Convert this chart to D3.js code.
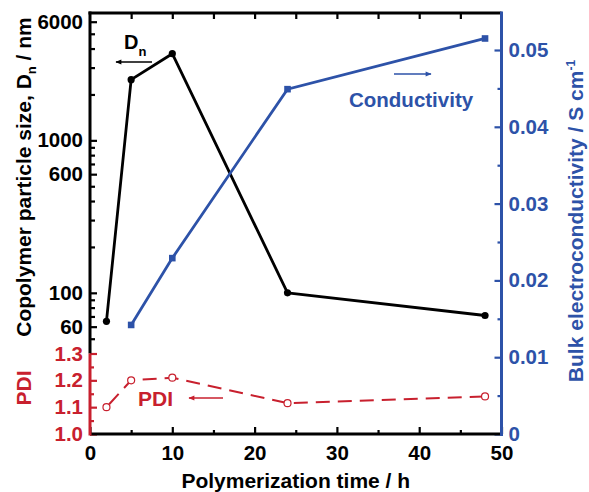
<!DOCTYPE html>
<html>
<head>
<meta charset="utf-8">
<script src="https://cdn.jsdelivr.net/npm/d3@7"></script>
<style>
  html, body { margin: 0; padding: 0; background: #fff; }
  svg { display: block; }
  text { font-family: "Liberation Sans", Arial, Helvetica, sans-serif; font-weight: bold; }
</style>
</head>
<body>
<svg id="chart" width="589" height="492"></svg>
<script>
// ---- data ----
const timeH = [2, 5, 10, 24, 48];
const particleSizeNm = [65, 2500, 3700, 100, 71];
const condTimeH = [5, 10, 24, 48];
const conductivity = [0.0142, 0.0229, 0.0449, 0.0515];
const pdiValues = [1.10, 1.20, 1.21, 1.115, 1.14];

const xTicks = [0, 10, 20, 30, 40, 50];
const xMinorTicks = [5, 15, 25, 35, 45];
const dnTicks = [60, 100, 600, 1000, 6000];
const dnMinorTicks = [50, 70, 80, 90, 200, 300, 400, 500, 700, 800, 900, 2000, 3000, 4000, 5000];
const pdiTicks = [1.0, 1.1, 1.2, 1.3];
const pdiMinorTicks = [1.05, 1.15, 1.25];
const condTicks = [0, 0.01, 0.02, 0.03, 0.04, 0.05];
const condMinorTicks = [0.005, 0.015, 0.025, 0.035, 0.045];

// ---- styles ----
const BLACK = "#000000";
const BLUE = "#2d52a8";
const RED = "#c8202e";
const TICK_FONT = "20.5px";
const TITLE_FONT = "21px";

const svg = d3.select("#chart");

const pLeft = 90, pRight = 501.5, pTop = 13, pBottom = 434;
const x = d3.scaleLinear().domain([0, 50]).range([pLeft, pRight]);
const yDn = d3.scaleLog().domain([40, 7000]).range([353.5, 11.5]);
const yPdi = d3.scaleLinear().domain([1.0, 1.3]).range([pBottom, 353.5]);
const yCond = d3.scaleLinear().domain([0, 0.05]).range([pBottom, 50]);

function styleAxis(g, color, size) {
  g.select(".domain").remove();
  g.selectAll(".tick line").attr("stroke", color).attr("stroke-width", 2.2);
  g.selectAll(".tick text").attr("fill", color).style("font-size", size || TICK_FONT);
}

// bottom axis
svg.append("g").attr("transform", `translate(0,${pBottom})`)
  .call(d3.axisBottom(x).tickValues(xTicks).tickSize(-7).tickPadding(11).tickFormat(d3.format("d")))
  .call(g => styleAxis(g, BLACK));
svg.append("g").attr("transform", `translate(0,${pBottom})`)
  .call(d3.axisBottom(x).tickValues(xMinorTicks).tickSize(-4).tickFormat(""))
  .call(g => styleAxis(g, BLACK));
// top axis (ticks only)
svg.append("g").attr("transform", `translate(0,${pTop})`)
  .call(d3.axisTop(x).tickValues(xMinorTicks.concat(xTicks.slice(1, 5))).tickSize(-6).tickFormat(""))
  .call(g => styleAxis(g, BLACK));

// left log axis (Dn)
svg.append("g").attr("transform", `translate(${pLeft},0)`)
  .call(d3.axisLeft(yDn).tickValues(dnTicks).tickSize(-7).tickPadding(7).tickFormat(d3.format("d")))
  .call(g => styleAxis(g, BLACK));
svg.append("g").attr("transform", `translate(${pLeft},0)`)
  .call(d3.axisLeft(yDn).tickValues(dnMinorTicks).tickSize(-5).tickFormat(""))
  .call(g => styleAxis(g, BLACK));

// left PDI axis
svg.append("g").attr("transform", `translate(${pLeft},0)`)
  .call(d3.axisLeft(yPdi).tickValues(pdiTicks).tickSize(-7).tickPadding(7).tickFormat(d3.format(".1f")))
  .call(g => styleAxis(g, RED));
svg.append("g").attr("transform", `translate(${pLeft},0)`)
  .call(d3.axisLeft(yPdi).tickValues(pdiMinorTicks).tickSize(-4).tickFormat(""))
  .call(g => styleAxis(g, RED));

// right conductivity axis
svg.append("g").attr("transform", `translate(${pRight},0)`)
  .call(d3.axisRight(yCond).tickValues(condTicks).tickSize(-7).tickPadding(7)
    .tickFormat(d => d === 0 ? "0" : d3.format(".2f")(d)))
  .call(g => styleAxis(g, BLUE));
svg.append("g").attr("transform", `translate(${pRight},0)`)
  .call(d3.axisRight(yCond).tickValues(condMinorTicks).tickSize(-4).tickFormat(""))
  .call(g => styleAxis(g, BLUE));

// axis lines
svg.append("line").attr("x1", pLeft - 1.5).attr("x2", pRight).attr("y1", pTop).attr("y2", pTop)
  .attr("stroke", BLACK).attr("stroke-width", 3);
svg.append("line").attr("x1", pLeft).attr("x2", pRight).attr("y1", pBottom).attr("y2", pBottom)
  .attr("stroke", BLACK).attr("stroke-width", 3);
svg.append("line").attr("x1", pLeft).attr("x2", pLeft).attr("y1", pTop - 1.5).attr("y2", yPdi(1.3))
  .attr("stroke", BLACK).attr("stroke-width", 3);
svg.append("line").attr("x1", pLeft).attr("x2", pLeft).attr("y1", yPdi(1.3)).attr("y2", pBottom + 1.5)
  .attr("stroke", RED).attr("stroke-width", 3);
svg.append("line").attr("x1", pRight).attr("x2", pRight).attr("y1", pTop - 1.5).attr("y2", pBottom + 2)
  .attr("stroke", BLUE).attr("stroke-width", 3);

// ---- series ----
const dnData = timeH.map((t, i) => ({ t, v: particleSizeNm[i] }));
const condData = condTimeH.map((t, i) => ({ t, v: conductivity[i] }));
const pdiData = timeH.map((t, i) => ({ t, v: pdiValues[i] }));

svg.append("path").datum(dnData)
  .attr("fill", "none").attr("stroke", BLACK).attr("stroke-width", 2.8)
  .attr("stroke-linejoin", "round")
  .attr("d", d3.line().x(d => x(d.t)).y(d => yDn(d.v)));
svg.selectAll(".dnpt").data(dnData).enter().append("circle")
  .attr("cx", d => x(d.t)).attr("cy", d => yDn(d.v)).attr("r", 3.6).attr("fill", BLACK);

svg.append("path").datum(condData)
  .attr("fill", "none").attr("stroke", BLUE).attr("stroke-width", 2.8)
  .attr("d", d3.line().x(d => x(d.t)).y(d => yCond(d.v)));
svg.selectAll(".cpt").data(condData).enter().append("rect")
  .attr("x", d => x(d.t) - 3.3).attr("y", d => yCond(d.v) - 3.3)
  .attr("width", 6.6).attr("height", 6.6).attr("fill", BLUE);

svg.append("path").datum(pdiData)
  .attr("fill", "none").attr("stroke", RED).attr("stroke-width", 2)
  .attr("stroke-dasharray", "14,8").attr("stroke-dashoffset", 18)
  .attr("d", d3.line().x(d => x(d.t)).y(d => yPdi(d.v)));
svg.selectAll(".ppt").data(pdiData).enter().append("circle")
  .attr("cx", d => x(d.t)).attr("cy", d => yPdi(d.v)).attr("r", 3.5)
  .attr("fill", "#fff").attr("stroke", RED).attr("stroke-width", 1.2);

// ---- titles ----
svg.append("text").attr("x", (pLeft + pRight) / 2).attr("y", 488)
  .attr("text-anchor", "middle").attr("fill", BLACK).style("font-size", TITLE_FONT)
  .text("Polymerization time / h");

const lt = svg.append("text").attr("transform", "translate(31,177) rotate(-90)")
  .attr("text-anchor", "middle").attr("fill", BLACK).style("font-size", TITLE_FONT);
lt.append("tspan").text("Copolymer particle size, D");
lt.append("tspan").attr("dy", 5).style("font-size", "13px").text("n");
lt.append("tspan").attr("dy", -5).text(" / nm");

svg.append("text").attr("transform", "translate(31,388) rotate(-90)")
  .attr("text-anchor", "middle").attr("fill", RED).style("font-size", TITLE_FONT)
  .text("PDI");

const rt = svg.append("text").attr("transform", "translate(583,221) rotate(-90)")
  .attr("text-anchor", "middle").attr("fill", BLUE).style("font-size", TITLE_FONT);
rt.append("tspan").text("Bulk electroconductivity / S cm");
rt.append("tspan").attr("dy", -8).style("font-size", "12px").text("-1");

// ---- annotations ----
const defs = svg.append("defs");
function marker(id, color) {
  defs.append("marker").attr("id", id).attr("viewBox", "0 0 10 10")
    .attr("refX", 9).attr("refY", 5).attr("markerWidth", 7).attr("markerHeight", 6)
    .attr("markerUnits", "userSpaceOnUse").attr("orient", "auto")
    .append("path").attr("d", "M0,1 L10,5 L0,9 Z").attr("fill", color);
}
marker("arrBlack", BLACK); marker("arrBlue", BLUE); marker("arrRed", RED);

const dnLbl = svg.append("text").attr("x", 124).attr("y", 49).attr("fill", BLACK).style("font-size", "20px");
dnLbl.append("tspan").text("D");
dnLbl.append("tspan").attr("dy", 7).style("font-size", "13px").text("n");
svg.append("line").attr("x1", 152).attr("y1", 62).attr("x2", 116).attr("y2", 62)
  .attr("stroke", BLACK).attr("stroke-width", 1.4).attr("marker-end", "url(#arrBlack)");

svg.append("text").attr("x", 349).attr("y", 107).attr("fill", BLUE).style("font-size", "20.5px")
  .text("Conductivity");
svg.append("line").attr("x1", 394).attr("y1", 74).attr("x2", 431).attr("y2", 74)
  .attr("stroke", BLUE).attr("stroke-width", 1.4).attr("marker-end", "url(#arrBlue)");

svg.append("text").attr("x", 138).attr("y", 406).attr("fill", RED).style("font-size", TITLE_FONT)
  .text("PDI");
svg.append("line").attr("x1", 223).attr("y1", 398).attr("x2", 189).attr("y2", 398)
  .attr("stroke", RED).attr("stroke-width", 1.4).attr("marker-end", "url(#arrRed)");
</script>
</body>
</html>
